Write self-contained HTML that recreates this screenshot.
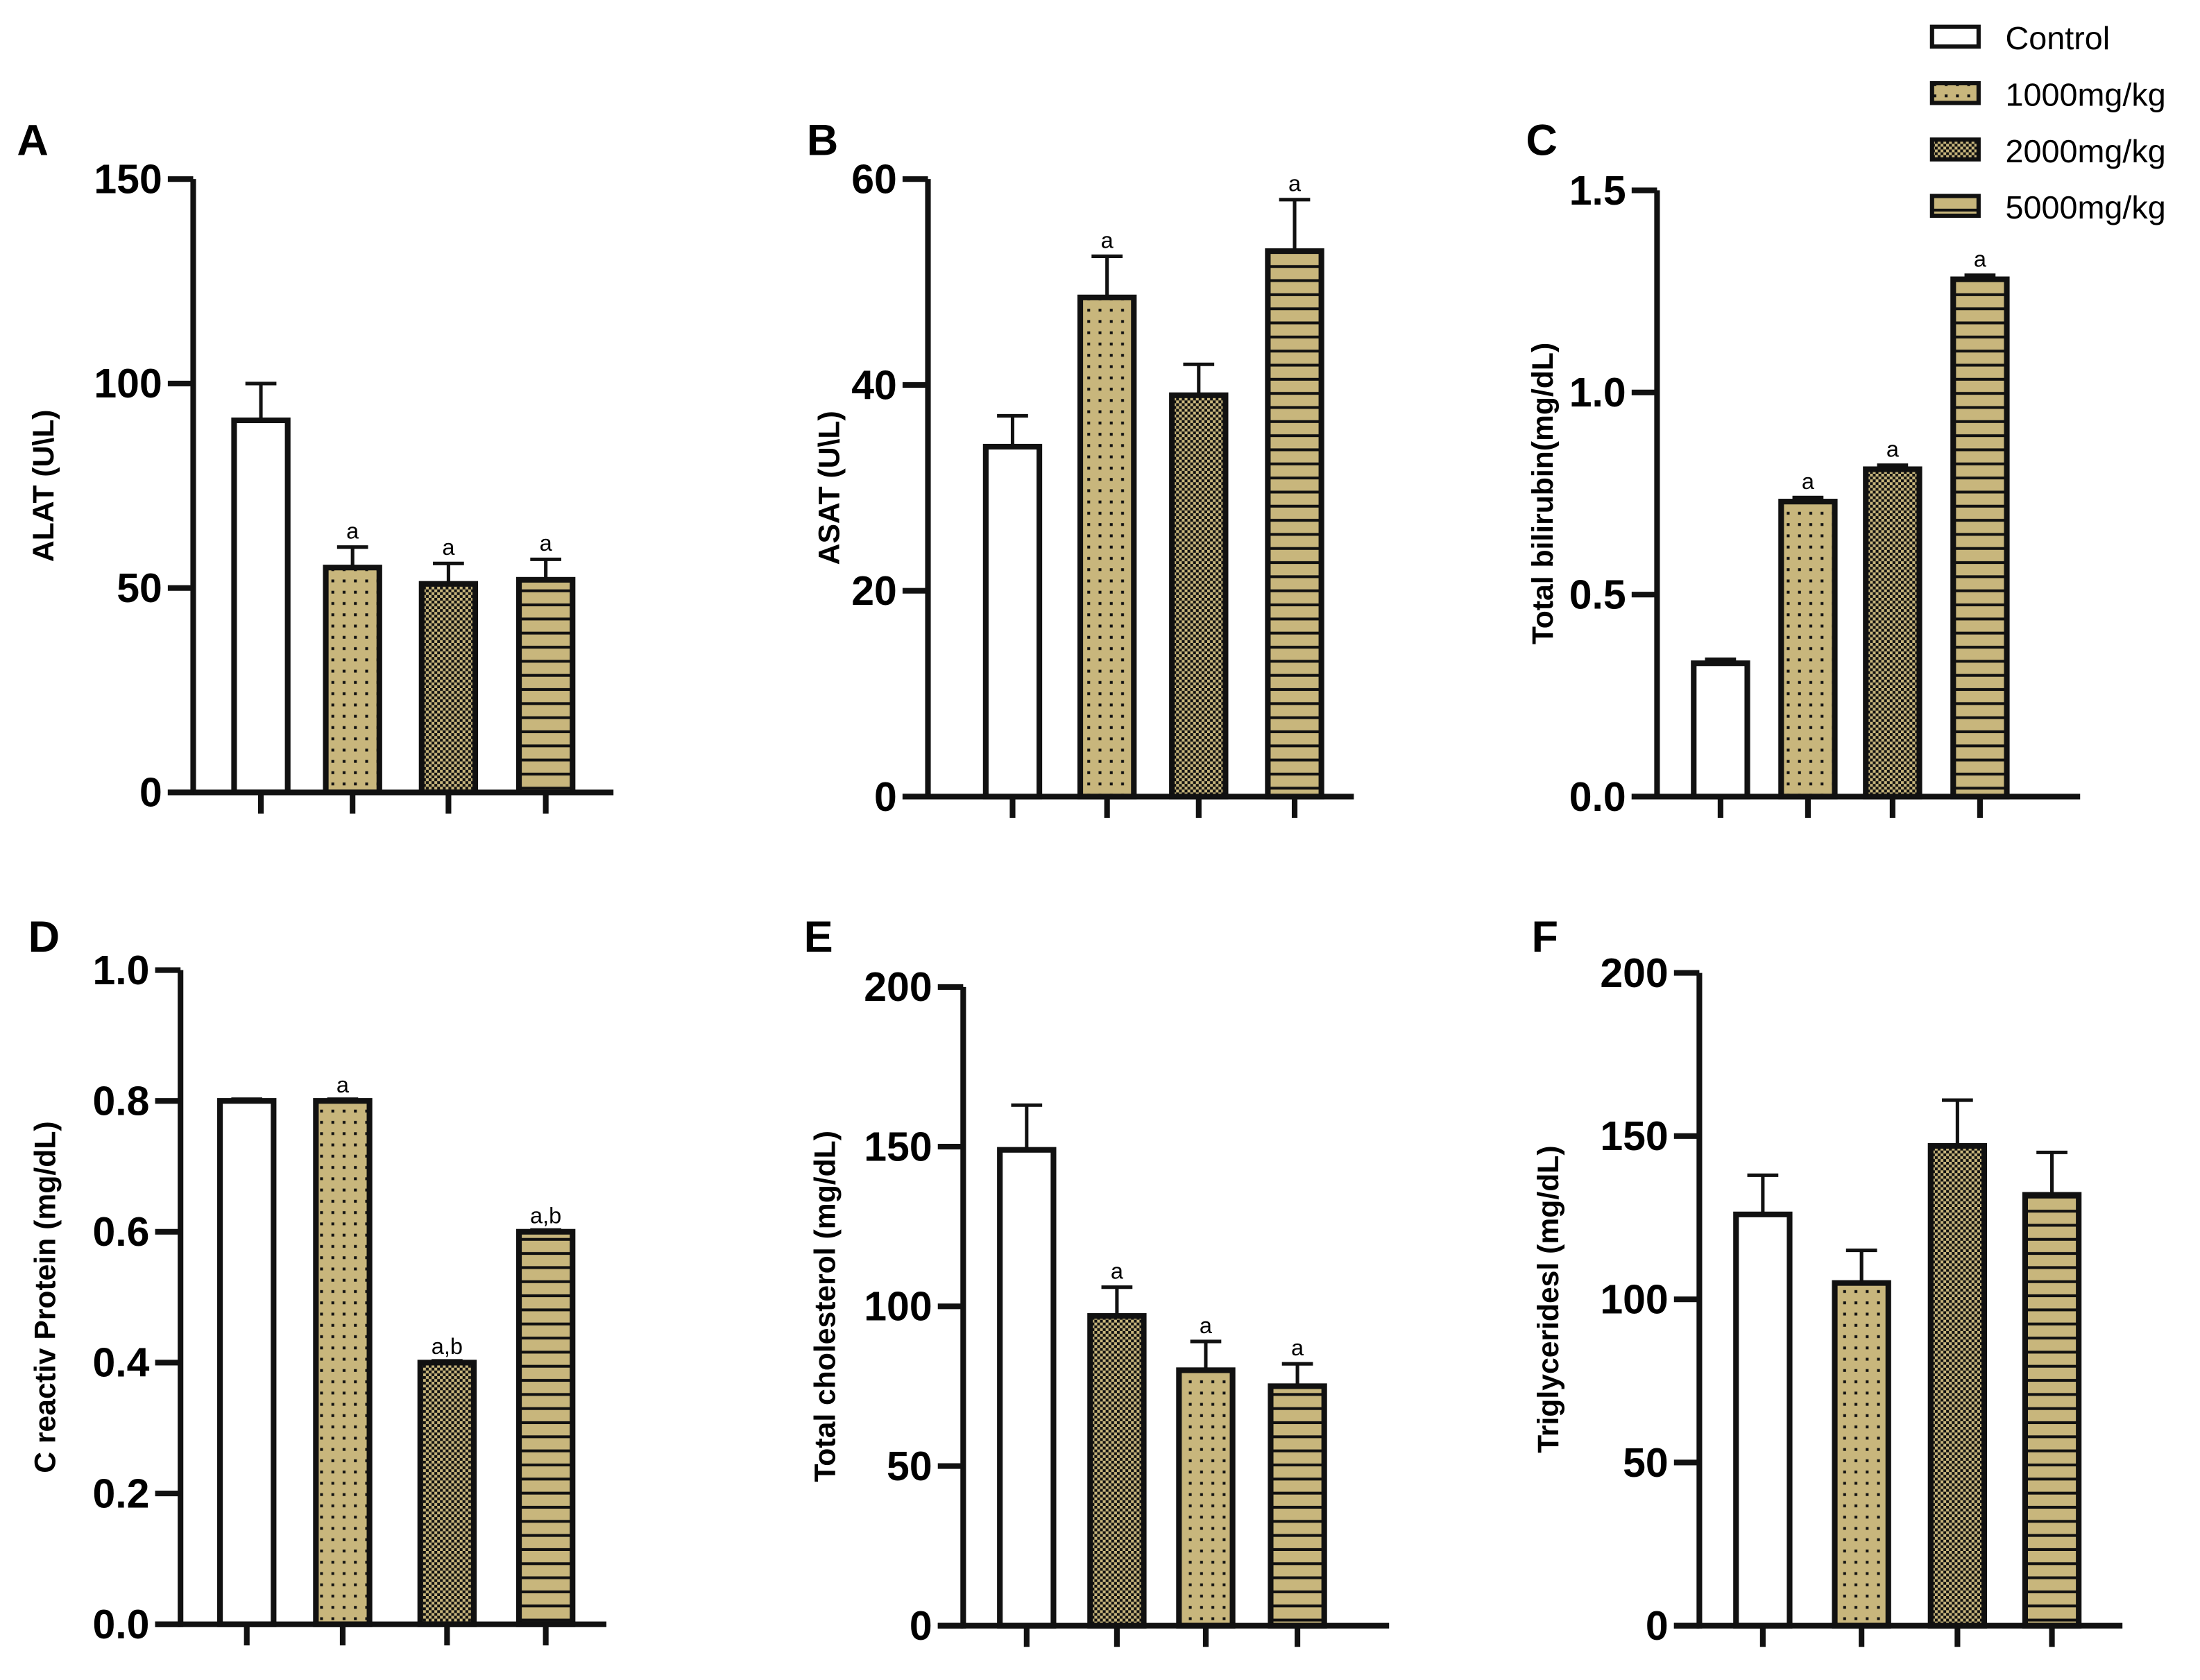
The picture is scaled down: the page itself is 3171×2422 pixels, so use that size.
<!DOCTYPE html>
<html><head><meta charset="utf-8"><style>
html,body{margin:0;padding:0;background:#fff}
svg{display:block}
text{font-family:"Liberation Sans",Arial,sans-serif}
</style></head><body>
<svg id="fig" xmlns="http://www.w3.org/2000/svg" width="3171" height="2422" viewBox="0 0 1560 1191.5">
<defs>
<pattern id="pDots" patternUnits="userSpaceOnUse" width="8" height="8"><rect width="8" height="8" fill="#c8b67c"/><rect x="3" y="3" width="2" height="2" fill="#111"/></pattern>
<pattern id="pCheck" patternUnits="userSpaceOnUse" width="4" height="4"><rect width="4" height="4" fill="#c8b67c"/><rect width="2" height="2" fill="#111"/><rect x="2" y="2" width="2" height="2" fill="#111"/></pattern>
<pattern id="pLines" patternUnits="userSpaceOnUse" width="10" height="10"><rect width="10" height="10" fill="#c8b67c"/><rect y="8" width="10" height="2" fill="#111"/></pattern>
</defs>
<g id="legend">
<rect x="1370" y="19" width="33" height="14" fill="#fff" stroke="#111" stroke-width="3"/><text x="1422" y="35" font-size="23">Control</text>
<rect x="1370" y="59" width="33" height="14" fill="url(#pDots)" stroke="#111" stroke-width="3"/><text x="1422" y="75" font-size="23">1000mg/kg</text>
<rect x="1370" y="99" width="33" height="14" fill="url(#pCheck)" stroke="#111" stroke-width="3"/><text x="1422" y="115" font-size="23">2000mg/kg</text>
<rect x="1370" y="139" width="33" height="14" fill="url(#pLines)" stroke="#111" stroke-width="3"/><text x="1422" y="155" font-size="23">5000mg/kg</text>
</g>
</svg>
<script>
const alatValues=[91,55,51,52];
const alatErrors=[100,60,56,57];
const alatMarks=["","a","a","a"];
const asatValues=[34,48.5,39,53];
const asatErrors=[37,52.5,42,58];
const asatMarks=["","a","","a"];
const biliValues=[0.33,0.73,0.81,1.28];
const biliErrors=[0.34,0.74,0.82,1.29];
const biliMarks=["","a","a","a"];
const crpValues=[0.80,0.80,0.40,0.60];
const crpErrors=[0.80,0.80,0.40,0.60];
const crpMarks=["","a","a,b","a,b"];
const cholValues=[149,97,80,75];
const cholErrors=[163,106,89,82];
const cholMarks=["","a","a","a"];
const trigValues=[126,105,147,132];
const trigErrors=[138,115,161,145];
const trigMarks=["","","",""];
const ticksA=[0,50,100,150];
const ticksB=[0,20,40,60];
const ticksC=["0.0","0.5","1.0","1.5"];
const ticksD=["0.0","0.2","0.4","0.6","0.8","1.0"];
const ticksE=[0,50,100,150,200];
const ticksF=[0,50,100,150,200];

const NS="http://www.w3.org/2000/svg";
const svg=document.getElementById('fig');
function mk(tag,attrs,parent){const e=document.createElementNS(NS,tag);for(const k in attrs)e.setAttribute(k,attrs[k]);parent.appendChild(e);return e;}
const fills=["#fff","url(#pDots)","url(#pCheck)","url(#pLines)"];

const panels=[
 {id:'a',letter:'A',lx:12,ly:110,ax:137,top:127,bot:562,end:435,max:150,ticks:ticksA,cx:[185,250,318,387],vals:alatValues,errs:alatErrors,marks:alatMarks,ylab:'ALAT (U\\L)',ylx:38,fills:[0,1,2,3]},
 {id:'b',letter:'B',lx:572,ly:110,ax:658,top:127,bot:565,end:960,max:60,ticks:ticksB,cx:[718,785,850,918],vals:asatValues,errs:asatErrors,marks:asatMarks,ylab:'ASAT (U\\L)',ylx:595,fills:[0,1,2,3]},
 {id:'c',letter:'C',lx:1082,ly:110,ax:1175,top:135,bot:565,end:1475,max:1.5,ticks:ticksC,cx:[1220,1282,1342,1404],vals:biliValues,errs:biliErrors,marks:biliMarks,ylab:'Total bilirubin(mg/dL)',ylx:1101,fills:[0,1,2,3]},
 {id:'d',letter:'D',lx:20,ly:675,ax:128,top:688,bot:1152,end:430,max:1.0,ticks:ticksD,cx:[175,243,317,387],vals:crpValues,errs:crpErrors,marks:crpMarks,ylab:'C reactiv Protein (mg/dL)',ylx:39,fills:[0,1,2,3]},
 {id:'e',letter:'E',lx:570,ly:675,ax:683,top:700,bot:1153,end:985,max:200,ticks:ticksE,cx:[728,792,855,920],vals:cholValues,errs:cholErrors,marks:cholMarks,ylab:'Total cholesterol (mg/dL)',ylx:592,fills:[0,2,1,3]},
 {id:'f',letter:'F',lx:1086,ly:675,ax:1205,top:690,bot:1153,end:1505,max:200,ticks:ticksF,cx:[1250,1320,1388,1455],vals:trigValues,errs:trigErrors,marks:trigMarks,ylab:'Triglyceridesl (mg/dL)',ylx:1105,fills:[0,1,2,3]}
];

panels.forEach(p=>{
 const g=mk('g',{},svg);
 
 
 const y=v=>p.bot-(v/p.max)*(p.bot-p.top);
 const lt=mk('text',{x:p.lx,y:p.ly,'font-size':31,'font-weight':'bold'},g);lt.textContent=p.letter;
 
 
 const yl=mk('text',{x:p.ylx,y:(p.top+p.bot)/2,'font-size':21,'font-weight':'bold','text-anchor':'middle',transform:`rotate(-90 ${p.ylx} ${(p.top+p.bot)/2})`},g);yl.textContent=p.ylab;
 
 
 p.vals.forEach((v,i)=>{
  const cx=p.cx[i],w=38,yt=y(v),ye=y(p.errs[i]);
  if(ye<yt-1){
   const e1=mk('line',{x1:cx,y1:yt,x2:cx,y2:ye,stroke:'#111','stroke-width':2.5},g);
   
   
   mk('line',{x1:cx-11,y1:ye,x2:cx+11,y2:ye,stroke:'#111','stroke-width':2.5},g);
  } else {
   mk('line',{x1:cx-11,y1:yt-1.5,x2:cx+11,y2:yt-1.5,stroke:'#111','stroke-width':2},g);
  }
  const r=mk('rect',{x:cx-w/2,y:yt,width:w,height:p.bot-yt,fill:fills[p.fills[i]],stroke:'#111','stroke-width':4},g);
  
  
  if(p.marks[i]){
   const t=mk('text',{x:cx,y:Math.min(ye,yt)-6,'font-size':16,'text-anchor':'middle'},g);t.textContent=p.marks[i];
   
   
  }
  mk('line',{x1:cx,y1:p.bot,x2:cx,y2:p.bot+15,stroke:'#111','stroke-width':4},g);
 });
 const ya=mk('line',{x1:p.ax,y1:p.top,x2:p.ax,y2:p.bot+2,stroke:'#111','stroke-width':4},g);
 
 
 const xa=mk('line',{x1:p.ax-18,y1:p.bot,x2:p.end,y2:p.bot,stroke:'#111','stroke-width':4},g);
 
 
 p.ticks.forEach(t=>{
  const ty=y(parseFloat(t));
  mk('line',{x1:p.ax-18,y1:ty,x2:p.ax,y2:ty,stroke:'#111','stroke-width':4},g);
  const tl=mk('text',{x:p.ax-22,y:ty+10,'font-size':29,'font-weight':'bold','text-anchor':'end'},g);tl.textContent=t;
  
  
 });
});
</script>
</body></html>
